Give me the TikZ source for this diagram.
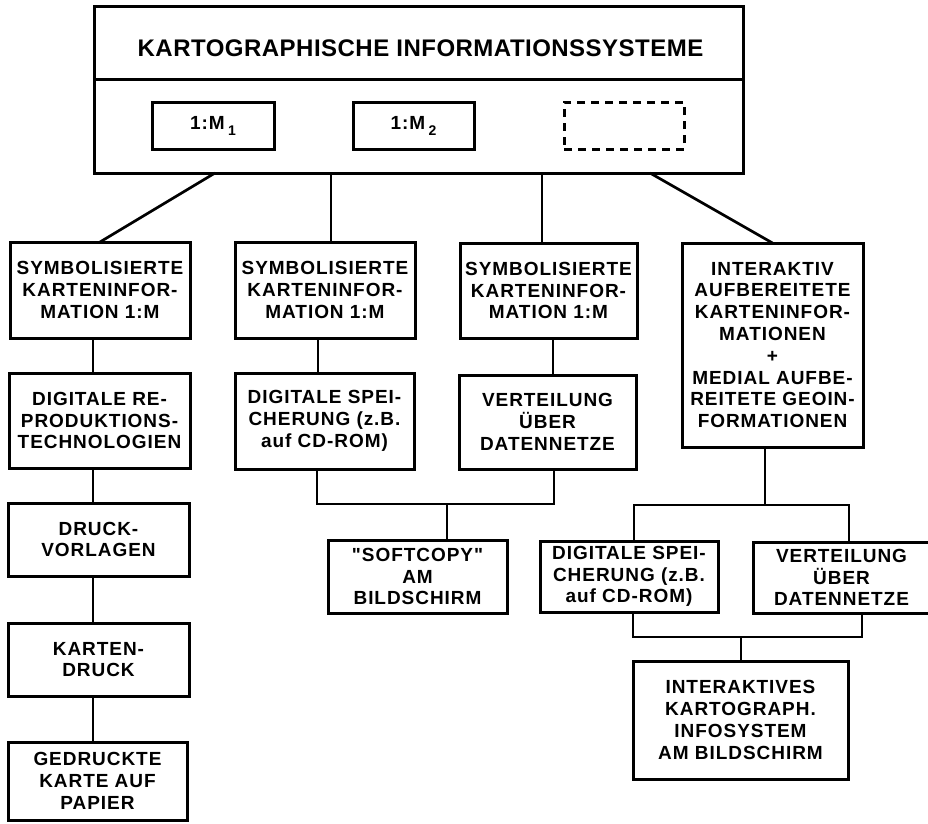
\documentclass[tikz,border=0pt]{standalone}
\usepackage{fontspec}
\setmainfont{Liberation Sans}[LetterSpace=5, Ligatures=TeXOff]
\newfontfamily\titlefont{Liberation Sans}[LetterSpace=2]
\newfontfamily\plainfont{Liberation Sans}
\begin{document}
\begin{tikzpicture}[x=1pt,y=-1pt,
  bx/.style={draw, line width=3pt, outer sep=0pt, inner sep=0pt, align=center,
    font=\bfseries\fontsize{19}{21.8}\selectfont},
  cn/.style={line width=2.7pt, line join=miter}]
\useasboundingbox (0,0) rectangle (928,823);
% top box
\node[draw, line width=3pt, outer sep=0pt, minimum width=649pt, minimum height=167pt] (top) at (418.5,89.5) {};
\draw[line width=3pt] (top.west |- 0,79) -- (top.east |- 0,79);
\node[font=\titlefont\bfseries\fontsize{24}{28}\selectfont] (title) at (420.5,48.5) {KARTOGRAPHISCHE INFORMATIONSSYSTEME};
\node[bx, minimum width=122pt, minimum height=47pt] (m1) at (213,125.5) {1:M\,\raisebox{-6pt}{\plainfont\bfseries\fontsize{14}{14}\selectfont 1}};
\node[bx, minimum width=121pt, minimum height=47pt] (m2) at (413.5,125.5) {1:M\,\raisebox{-6pt}{\plainfont\bfseries\fontsize{14}{14}\selectfont 2}};
\node[bx, dash pattern=on 8pt off 6pt, minimum width=120pt, minimum height=47pt] (m3) at (624,125.5) {};
% second row
\node[bx, minimum width=180pt, minimum height=96pt] (A) at (100,290) {SYMBOLISIERTE\\KARTENINFOR-\\MATION 1:M};
\node[bx, minimum width=180pt, minimum height=96pt] (B) at (325,290) {SYMBOLISIERTE\\KARTENINFOR-\\MATION 1:M};
\node[bx, minimum width=177pt, minimum height=95pt] (C) at (548.5,290.5) {SYMBOLISIERTE\\KARTENINFOR-\\MATION 1:M};
\node[bx, minimum width=181pt, minimum height=204pt] (D) at (772.5,345) {INTERAKTIV\\AUFBEREITETE\\KARTENINFOR-\\MATIONEN\\+\\MEDIAL AUFBE-\\REITETE GEOIN-\\FORMATIONEN};
% third row
\node[bx, minimum width=181pt, minimum height=95pt] (A2) at (99.5,420.5) {DIGITALE RE-\\PRODUKTIONS-\\TECHNOLOGIEN};
\node[bx, minimum width=179pt, minimum height=96pt] (B2) at (324.5,421) {DIGITALE SPEI-\\CHERUNG (z.B.\\auf CD-ROM)};
\node[bx, minimum width=177pt, minimum height=94pt] (C2) at (547.5,422) {VERTEILUNG\\ÜBER\\DATENNETZE};
% left chain
\node[bx, minimum width=181pt, minimum height=73pt] (A3) at (98.5,539.5) {DRUCK-\\VORLAGEN};
\node[bx, minimum width=181pt, minimum height=73pt] (A4) at (98.5,659.5) {KARTEN-\\DRUCK};
\node[bx, minimum width=179pt, minimum height=78pt] (A5) at (97.5,781) {GEDRUCKTE\\KARTE AUF\\PAPIER};
% middle / right lower
\node[bx, minimum width=179pt, minimum height=73pt] (SC) at (417.5,576.5) {"SOFTCOPY"\\AM\\BILDSCHIRM};
\node[bx, minimum width=178pt, minimum height=71pt] (E1) at (629,576.5) {DIGITALE SPEI-\\CHERUNG (z.B.\\auf CD-ROM)};
\node[bx, minimum width=177pt, minimum height=71pt] (E2) at (841.5,577.5) {VERTEILUNG\\ÜBER\\DATENNETZE};
\node[bx, minimum width=215pt, minimum height=118pt] (F) at (740.5,720) {INTERAKTIVES\\KARTOGRAPH.\\INFOSYSTEM\\AM BILDSCHIRM};
% connector coordinates
\coordinate (tA) at (215,173);
\coordinate (tB) at (331,173);
\coordinate (tC) at (542,173);
\coordinate (tD) at (650,173);
\coordinate (ax) at (93,0);
\coordinate (bx1) at (318,0);
\coordinate (cx1) at (553,0);
\coordinate (b1l) at (317,504);
\coordinate (b1r) at (554,504);
\coordinate (s1) at (447,504);
\coordinate (dx) at (765,0);
\coordinate (b2l) at (634,505);
\coordinate (b2r) at (849,505);
\coordinate (b3l) at (633,637);
\coordinate (b3r) at (862,637);
\coordinate (s3) at (741,637);
% connectors
\draw[cn] (tA) -- (A.north);
\draw[cn] (tB) -- (tB |- B.north);
\draw[cn] (tC) -- (tC |- C.north);
\draw[cn] (tD) -- (D.north);
\draw[cn] (ax |- A.south) -- (ax |- A2.north);
\draw[cn] (ax |- A2.south) -- (ax |- A3.north);
\draw[cn] (ax |- A3.south) -- (ax |- A4.north);
\draw[cn] (ax |- A4.south) -- (ax |- A5.north);
\draw[cn] (bx1 |- B.south) -- (bx1 |- B2.north);
\draw[cn] (cx1 |- C.south) -- (cx1 |- C2.north);
\draw[cn] (b1l |- B2.south) -- (b1l) -- (b1r) -- (b1r |- C2.south);
\draw[cn] (s1) -- (s1 |- SC.north);
\draw[cn] (dx |- D.south) -- (dx |- b2l);
\draw[cn] (b2l |- E1.north) -- (b2l) -- (b2r) -- (b2r |- E2.north);
\draw[cn] (b3l |- E1.south) -- (b3l) -- (b3r) -- (b3r |- E2.south);
\draw[cn] (s3) -- (s3 |- F.north);
\end{tikzpicture}
\end{document}
